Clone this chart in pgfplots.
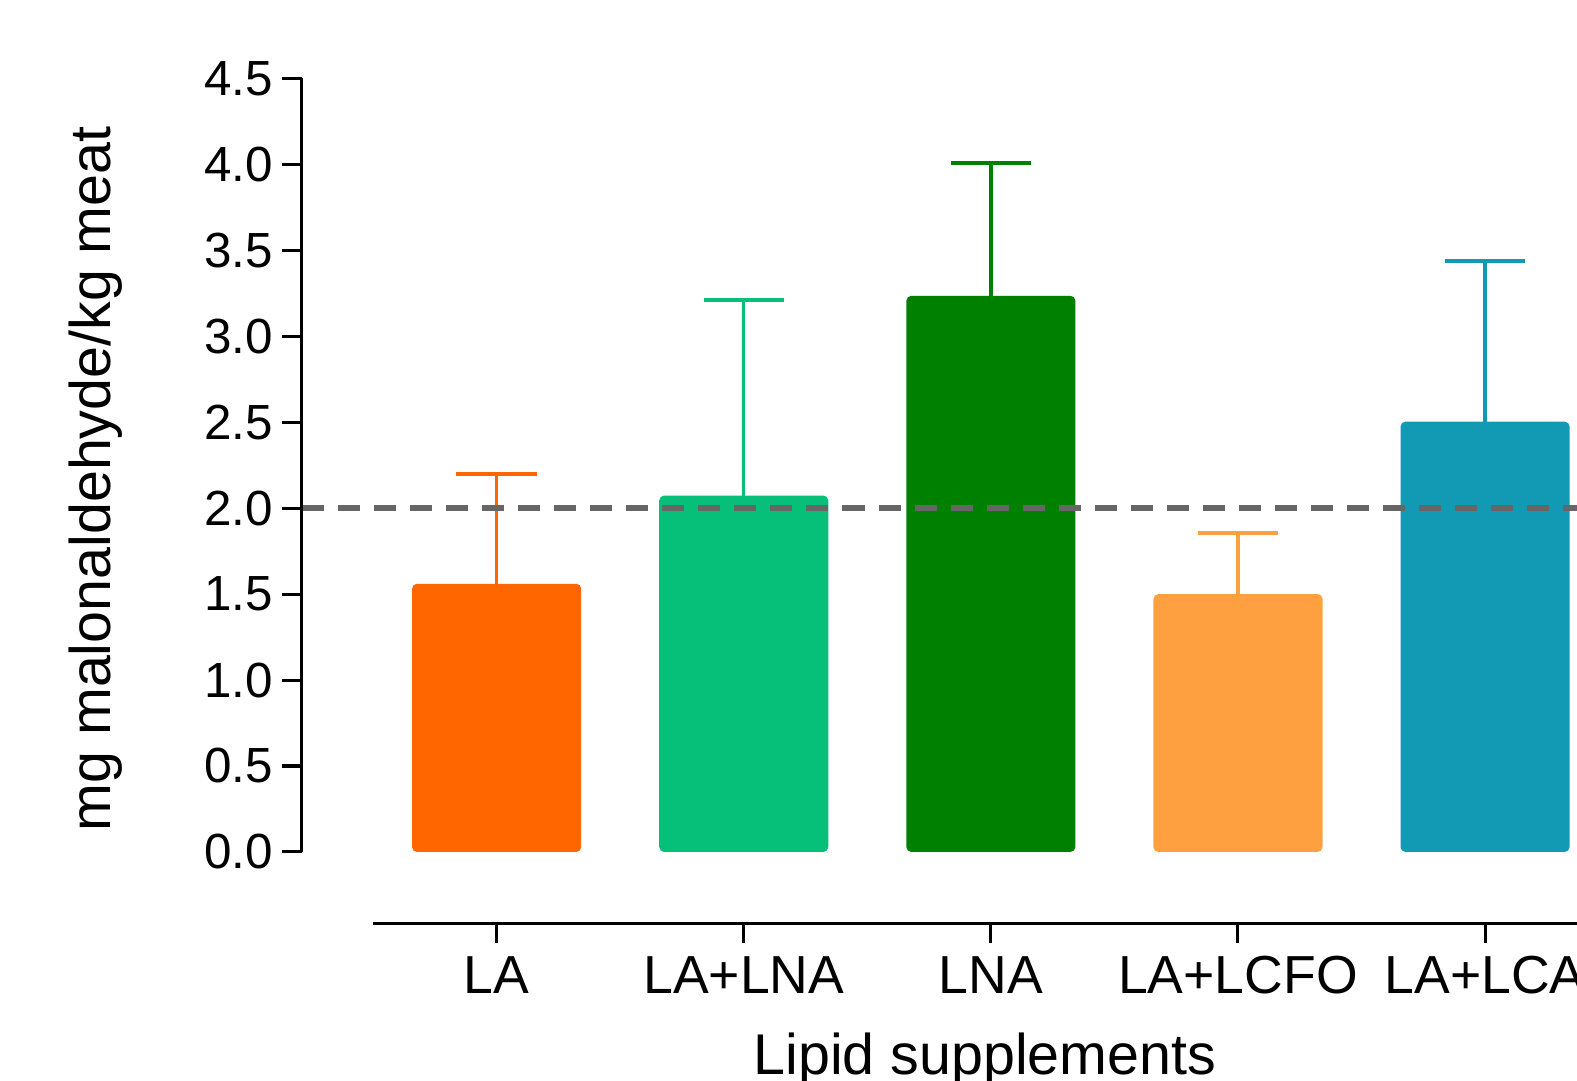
\documentclass[border=0pt]{standalone}
\usepackage{pgfplots}
\pgfplotsset{compat=1.18}
\usepackage{fontspec}
\setmainfont{Liberation Sans}
\definecolor{cLA}{RGB}{255,102,0}
\definecolor{cLALNA}{RGB}{6,191,120}
\definecolor{cLNA}{RGB}{0,128,0}
\definecolor{cLCFO}{RGB}{255,160,64}
\definecolor{cLCA}{RGB}{18,153,180}
\definecolor{dashgray}{RGB}{102,102,102}

% one bar with an upward-only error bar
\pgfplotsset{
  errbar/.style={
    ybar, bar width=48.3pt, bar shift=0pt, draw=none, fill=#1,
    rounded corners=1.4pt,
    error bars/.cd, y dir=plus, y explicit,
    error bar style={color=#1, line width=0.95pt, sharp corners},
    error mark options={color=#1, mark size=11.5pt, line width=1.15pt, rotate=90},
  },
}

\begin{document}
\begin{tikzpicture}
\path[use as bounding box] (0,0) rectangle (450.571pt,308.571pt);
\clip (0,0) rectangle (450.571pt,308.571pt);
\begin{axis}[
  at={(86.2pt,44.77pt)}, anchor=south west,
  scale only axis,
  width=364.37pt, height=241.43pt,
  xmin=-0.789, xmax=4.372,
  ymin=-0.415, ymax=4.5,
  axis x line=bottom, axis y line=left,
  axis line style={draw=none},
  tick align=outside,
  major tick length=5.7pt,
  every tick/.style={black, line width=0.86pt},
  xtick={0,1,2,3,4},
  xticklabels={LA, LA+LNA, LNA, LA+LCFO, LA+LCA},
  ytick={0,0.5,...,4.5},
  /pgf/number format/fixed,
  /pgf/number format/fixed zerofill,
  /pgf/number format/precision=1,
  /pgf/number format/assume math mode=true,
  yticklabel style={font=\fontsize{14.1}{16}\selectfont, inner sep=2.3pt},
  xticklabel style={font=\fontsize{15.3}{17}\selectfont, inner sep=3.5pt},
  xlabel={Lipid supplements},
  ylabel={mg malonaldehyde/kg meat},
  label style={font=\fontsize{16.4}{19}\selectfont},
  xlabel style={at={(axis description cs:0.5358,-0.1792)}, anchor=base},
  ylabel style={at={(axis description cs:-0.1503,0.526)}, anchor=base},
  clip=false,
]
\addplot[errbar=cLA]    coordinates {(0,1.56)  +- (0,0.64)};
\addplot[errbar=cLALNA] coordinates {(1,2.073) +- (0,1.137)};
\addplot[errbar=cLNA]   coordinates {(2,3.235) +- (0,0.775)};
\addplot[errbar=cLCFO]  coordinates {(3,1.50)  +- (0,0.356)};
\addplot[errbar=cLCA]   coordinates {(4,2.503) +- (0,0.937)};

% reference level
\addplot[dashgray, line width=1.85pt, dash pattern=on 6.3pt off 4pt]
  coordinates {(-0.789,2) (4.372,2)};

% axis lines (y axis stops at 0, x axis is offset below)
\draw[black, line width=0.86pt] (axis cs:-0.789,0) -- (axis cs:-0.789,4.5);
\draw[black, line width=0.86pt] (axis cs:-0.5,-0.415) -- (axis cs:4.372,-0.415);
\end{axis}
\end{tikzpicture}
\end{document}
